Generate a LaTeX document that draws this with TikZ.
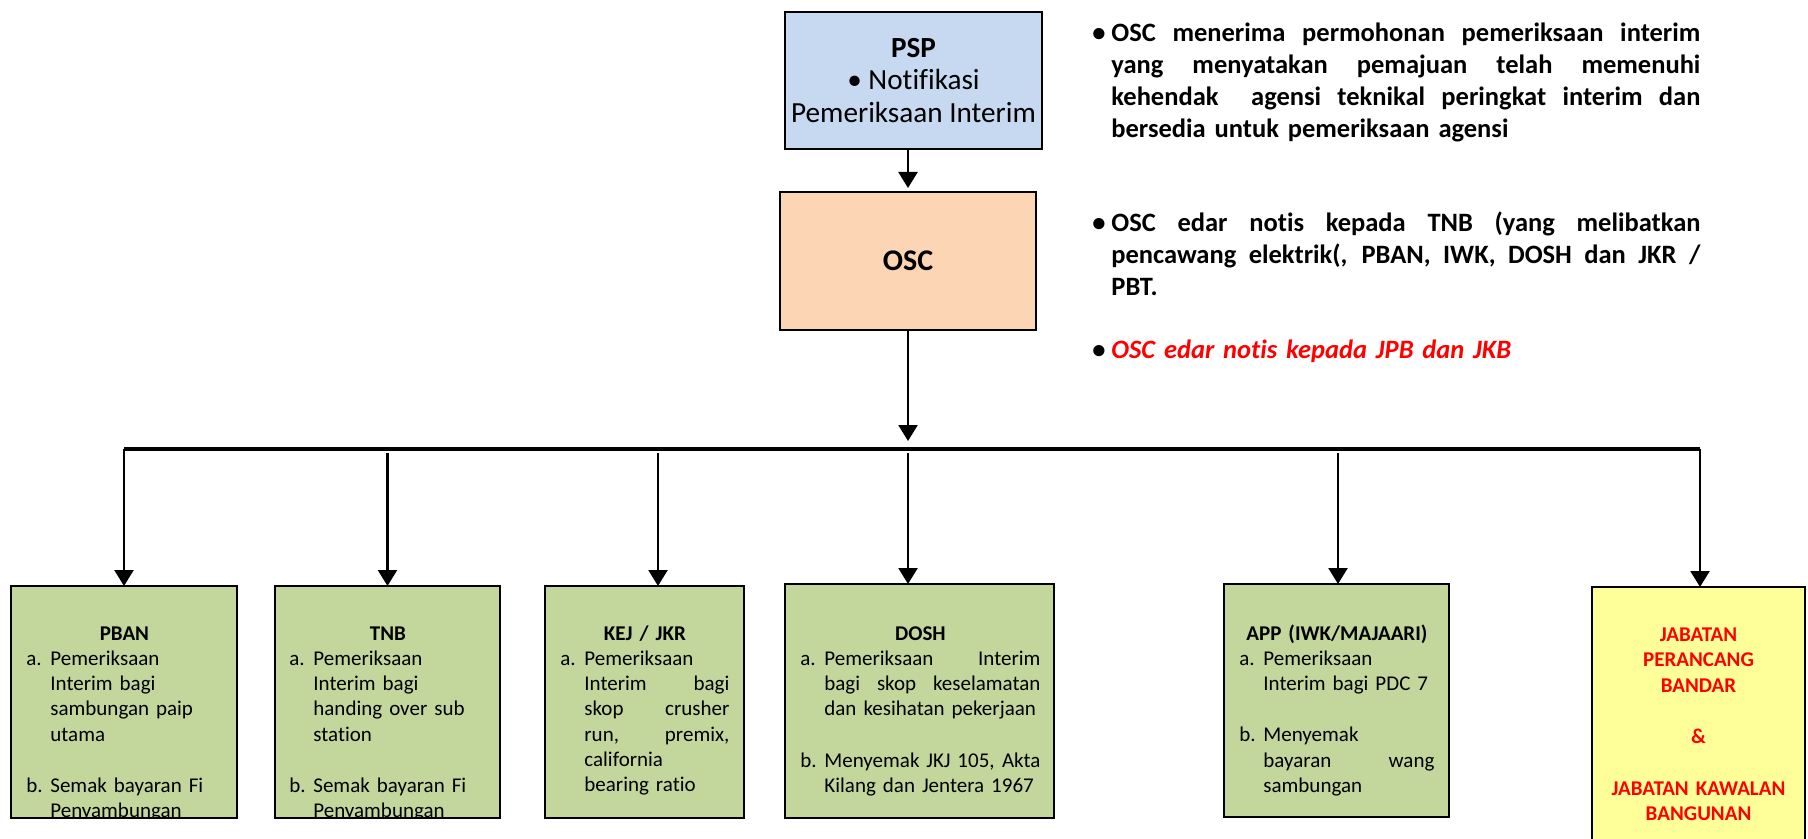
\documentclass[tikz,border=0pt]{standalone}
\usepackage{fontspec}
\setmainfont{Carlito}[Ligatures=NoCommon]
\usetikzlibrary{arrows.meta}
\definecolor{pspblue}{RGB}{198,217,241}
\definecolor{oscorange}{RGB}{252,213,181}
\definecolor{agreen}{RGB}{195,214,155}
\definecolor{ayellow}{RGB}{255,255,153}
\definecolor{tred}{RGB}{255,0,0}
\hbadness=10000
\hfuzz=20pt
% stretchable (and slightly shrinkable) interword spaces for justified lines
\newcommand\sfil{\spaceskip=\fontdimen2\font plus 1fil minus 0.35\fontdimen2\font\relax}
% list lines in the bottom boxes: label column 12pt
\newcommand\boxtitle[1]{\noindent\makebox[\linewidth]{\textbf{#1}}\par}
\newcommand\jfirst[2]{\noindent\makebox[12pt][l]{#1}\makebox[\dimexpr\linewidth-12pt\relax][s]{\sfil #2}\par}
\newcommand\jnext[1]{\noindent\hspace*{12pt}\makebox[\dimexpr\linewidth-12pt\relax][s]{\sfil #1}\par}
\newcommand\rfirst[2]{\noindent\makebox[12pt][l]{#1}#2\par}
\newcommand\rnext[1]{\noindent\hspace*{12pt}#1\par}
\newcommand\gapline{\vskip 13pt}
% side notes: bullet column 9.5pt
\newcommand\bjfirst[1]{\noindent\makebox[9.5pt][l]{•}\makebox[\dimexpr\linewidth-9.5pt\relax][s]{\sfil #1}\par}
\newcommand\bjnext[1]{\noindent\hspace*{9.5pt}\makebox[\dimexpr\linewidth-9.5pt\relax][s]{\sfil #1}\par}
\newcommand\brfirst[1]{\noindent\makebox[9.5pt][l]{•}#1\par}
\newcommand\brnext[1]{\noindent\hspace*{9.5pt}#1\par}
\tikzset{
  box/.style={draw=black, line width=1.4pt, rectangle, inner sep=0pt, outer sep=0pt},
  boxborder/.style={draw=black, line width=1.4pt},
  conn/.style={line width=1.2pt, -{Triangle[length=8pt,width=9.5pt]}},
  busline/.style={line width=1.7pt},
  boxtext/.style={anchor=base west, inner sep=0pt,
    font=\fontsize{10.5pt}{12.65pt}\selectfont},
  sidetext/.style={anchor=base west, inner sep=0pt, text width=304pt,
    font=\fontsize{13.25pt}{15.85pt}\selectfont\bfseries},
}
\begin{document}
\begin{tikzpicture}[x=0.5pt,y=-0.5pt]
\useasboundingbox (0,0) rectangle (1808,839);

% top boxes
\node[box, fill=pspblue, minimum width=128.5pt, minimum height=68.5pt, align=center,
      font=\fontsize{14.6pt}{16.25pt}\selectfont] (psp) at (913.5,80.5)
  {\textbf{PSP}\\• Notifikasi\\Pemeriksaan Interim};
\node[box, fill=oscorange, minimum width=128pt, minimum height=69pt,
      font=\fontsize{15pt}{16.25pt}\selectfont\bfseries] (osc) at (908,261) {OSC};

% side notes
\node[sidetext] (note1) at (1092,42) {%
  \bjfirst{OSC menerima permohonan pemeriksaan interim}
  \bjnext{yang menyatakan pemajuan telah memenuhi}
  \bjnext{kehendak~ agensi teknikal peringkat interim dan}
  \brnext{bersedia untuk pemeriksaan agensi}};
\node[sidetext] (note2) at (1092,232) {%
  \bjfirst{OSC edar notis kepada TNB (yang melibatkan}
  \bjnext{pencawang elektrik(, PBAN, IWK, DOSH dan JKR /}
  \brnext{PBT.}};
\node[sidetext] (note3) at (1092,358) {%
  \brfirst{\textcolor{tred}{\itshape OSC edar notis kepada JPB dan JKB}}};

% bottom boxes
\node[box, fill=agreen, minimum width=113pt, minimum height=116pt] (pban) at (124,702) {};
\node[box, fill=agreen, minimum width=112.5pt, minimum height=116pt] (tnb) at (387.5,702) {};
\node[box, fill=agreen, minimum width=99.5pt, minimum height=116pt] (kej) at (644.5,702) {};
\node[box, fill=agreen, minimum width=134.5pt, minimum height=117pt] (dosh) at (919.5,701) {};
\node[box, fill=agreen, minimum width=112.5pt, minimum height=116.5pt] (app) at (1336.5,700.5) {};
\node[box, fill=ayellow, minimum width=106.5pt, minimum height=141.5pt] (jab) at (1698.5,728.5) {};

\begin{scope}
\clip (pban.north west) rectangle (pban.south east);
\node[boxtext, text width=98pt] (pbantext) at (26,640) {%
  \boxtitle{PBAN}
  \rfirst{a.}{Pemeriksaan}
  \rnext{Interim bagi}
  \rnext{sambungan paip}
  \rnext{utama}
  \gapline
  \rfirst{b.}{Semak bayaran Fi}
  \rnext{Penyambungan}};
\end{scope}
\draw[boxborder] (pban.north west) rectangle (pban.south east);

\begin{scope}
\clip (tnb.north west) rectangle (tnb.south east);
\node[boxtext, text width=98.5pt] (tnbtext) at (289,640) {%
  \boxtitle{TNB}
  \rfirst{a.}{Pemeriksaan}
  \rnext{Interim bagi}
  \rnext{handing over sub}
  \rnext{station}
  \gapline
  \rfirst{b.}{Semak bayaran Fi}
  \rnext{Penyambungan}};
\end{scope}
\draw[boxborder] (tnb.north west) rectangle (tnb.south east);

\node[boxtext, text width=84.5pt] (kejtext) at (560,640) {%
  \boxtitle{KEJ / JKR}
  \rfirst{a.}{Pemeriksaan}
  \jnext{Interim bagi}
  \jnext{skop crusher}
  \jnext{run, premix,}
  \rnext{california}
  \rnext{bearing ratio}};

\node[boxtext, text width=120pt] (doshtext) at (800,640) {%
  \boxtitle{DOSH}
  \jfirst{a.}{Pemeriksaan Interim}
  \jnext{bagi skop keselamatan}
  \rnext{dan kesihatan pekerjaan}
  \gapline
  \jfirst{b.}{Menyemak JKJ 105, Akta}
  \rnext{Kilang dan Jentera 1967}};

\node[boxtext, text width=97.5pt] (apptext) at (1239,640) {%
  \boxtitle{APP (IWK/MAJAARI)}
  \rfirst{a.}{Pemeriksaan}
  \rnext{Interim bagi PDC 7}
  \gapline
  \rfirst{b.}{Menyemak}
  \jnext{bayaran wang}
  \rnext{sambungan}};

\node[anchor=base, inner sep=0pt, text width=100pt, align=center, text=tred,
      font=\fontsize{10.5pt}{12.85pt}\selectfont\bfseries] (jabtext) at (1698.5,641)
  {JABATAN\\PERANCANG\\BANDAR\\~\\\&\\~\\JABATAN KAWALAN\\BANGUNAN};

% connectors
\draw[conn, shorten >=2pt] (osc.north |- psp.south) -- (osc.north);
\coordinate (hub) at (908,441);
\draw[conn] (osc.south) -- (hub);
\coordinate (busL) at (124,449);
\coordinate (busR) at (1700,449);
\draw[busline] (busL) -- (busR);
\draw[conn] (busL) -- (pban.north);
\coordinate (t2) at (387.5,453);
\draw[conn] (t2) -- (tnb.north);
\coordinate (t3) at (658,453);
\draw[conn] (t3) -- (t3 |- kej.north);
\coordinate (t4) at (908,453);
\draw[conn] (t4) -- (t4 |- dosh.north);
\coordinate (t5) at (1338,453);
\draw[conn] (t5) -- (t5 |- app.north);
\draw[conn] (busR) -- (busR |- jab.north);
\end{tikzpicture}
\end{document}
